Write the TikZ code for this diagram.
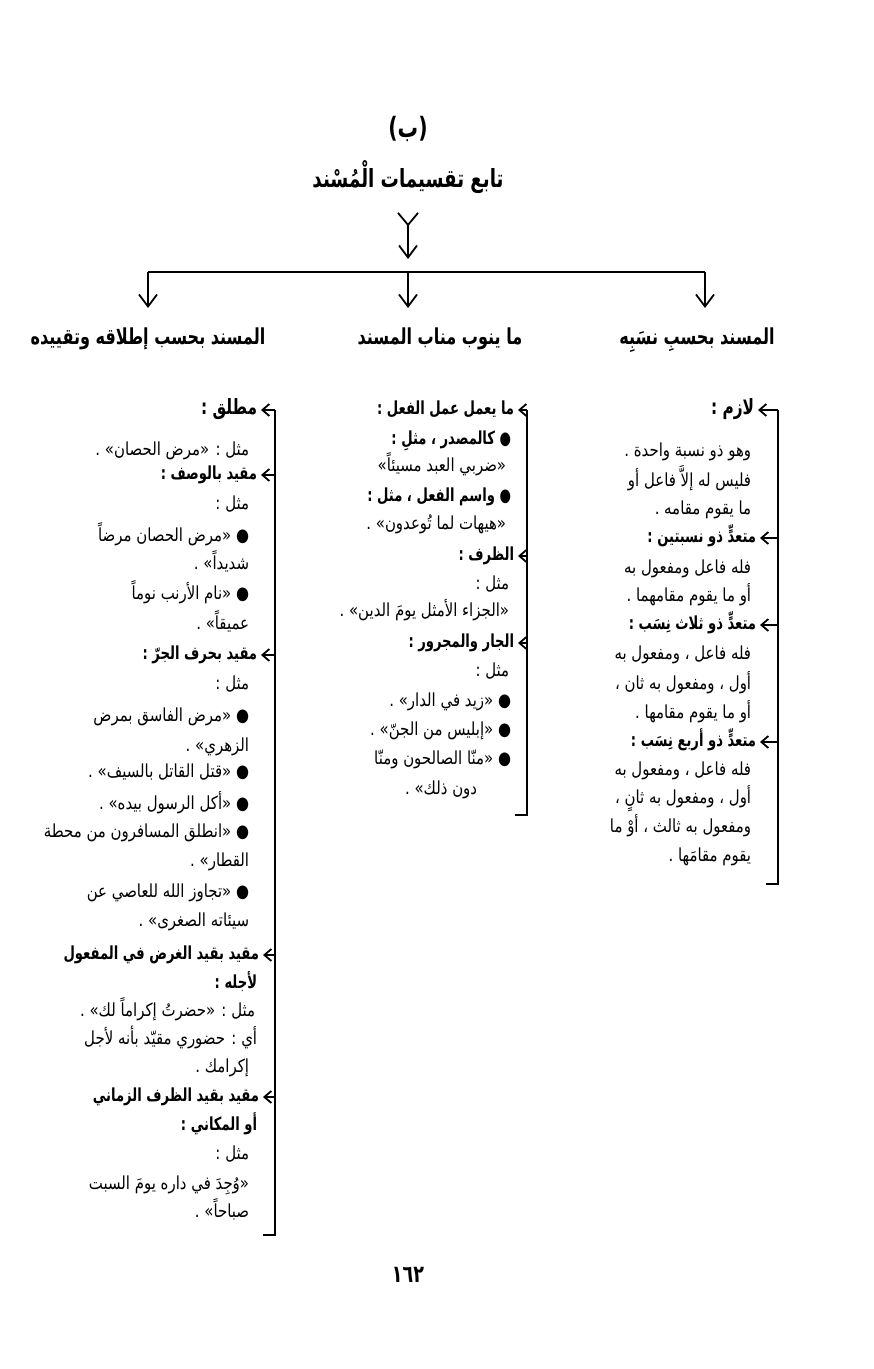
\documentclass[tikz,border=0pt]{standalone}
\usepackage{fontspec}
\usepackage{tikz}
\usetikzlibrary{arrows.meta}
\TeXXeTstate=1
\newfontfamily\arabicfont[Script=Arabic, FakeStretch=0.83, BoldFeatures={FakeStretch=0.73}]{DejaVu Sans}
\newcommand\bodysize{\fontsize{9}{11}\selectfont}

\begin{document}
\begin{tikzpicture}[x=0.5pt, y=-0.5pt, line width=0.9pt,
    >={Straight Barb[length=4pt,width=8pt]},
    ar/.style={inner sep=0pt, text height=7.5pt, text depth=3pt, font=\arabicfont\bodysize,
        execute at begin node=\beginR, execute at end node=\endR},
    body/.style={ar, anchor=east},
    head/.style={ar, anchor=east, font=\arabicfont\bodysize\bfseries},
    colhead/.style={ar, font=\arabicfont\fontsize{11}{13}\selectfont\bfseries},
    tick/.style={->, >={Straight Barb[length=3.5pt,width=6pt]}, shorten >=1.5pt}]
    \useasboundingbox (0,0) rectangle (873,1369);

    % title
    \node[ar, font=\arabicfont\fontsize{14}{16}\selectfont\bfseries] (letter) at (408,133) {(ب)};
    \node[ar, font=\arabicfont\fontsize{12.5}{14}\selectfont\bfseries] (title) at (408,183) {تابع تقسيمات الْمُسْند};
    \coordinate (tTop) at (408,212);
    \coordinate (tEnd) at (408,259);
    \draw[{Straight Barb[reversed,length=6pt,width=10pt]}-{Straight Barb[length=6pt,width=9pt]}] (tTop) -- (tEnd);

    % split
    \coordinate (sL) at (148,272);
    \coordinate (sM) at (408,272);
    \coordinate (sR) at (705,272);
    \coordinate (aL) at (148,308);
    \coordinate (aM) at (408,308);
    \coordinate (aR) at (705,308);
    \draw (sL) -- (sR);
    \foreach \s/\a in {sL/aL,sM/aM,sR/aR}
        \draw[->, >={Straight Barb[length=6pt,width=9pt]}] (\s) -- (\a);

    \node[colhead] (hR) at (697,340) {المسند بحسبِ نسَبِه};
    \node[colhead] (hM) at (440,340) {ما ينوب مناب المسند};
    \node[colhead] (hL) at (148,340) {المسند بحسب إطلاقه وتقييده};

    % right column
    \node[head, font=\arabicfont\fontsize{10.5}{12}\selectfont\bfseries] (r1) at (755,410) {لازم :};
    \node[body] (r2) at (752,452) {وهو ذو نسبة واحدة .};
    \node[body] (r3) at (752,482) {فليس له إلاَّ فاعل أو};
    \node[body] (r4) at (752,510) {ما يقوم مقامه .};
    \node[head] (r5) at (757,538) {متعدٍّ ذو نسبتين :};
    \node[body] (r6) at (752,569) {فله فاعل ومفعول به};
    \node[body] (r7) at (752,597) {أو ما يقوم مقامهما .};
    \node[head] (r8) at (757,625) {متعدٍّ ذو ثلاث نِسَب :};
    \node[body] (r9) at (752,655) {فله فاعل ، ومفعول به};
    \node[body] (r10) at (752,685) {أول ، ومفعول به ثان ،};
    \node[body] (r11) at (752,714) {أو ما يقوم مقامها .};
    \node[head] (r12) at (757,742) {متعدٍّ ذو أربع نِسَب :};
    \node[body] (r13) at (752,771) {فله فاعل ، ومفعول به};
    \node[body] (r14) at (752,799) {أول ، ومفعول به ثانٍ ،};
    \node[body] (r15) at (752,828) {ومفعول به ثالث ، أوْ ما};
    \node[body] (r16) at (752,857) {يقوم مقامَها .};
    \coordinate (rTop) at (778,410);
    \coordinate (rBot) at (778,884);
    \coordinate (rEnd) at (766,884);
    \draw (rTop) -- (rBot) -- (rEnd);
    \foreach \n in {r1,r5,r8,r12}
        \draw[tick] (\n.east -| rTop) -- (\n.east);

    % middle column
    \node[head] (m1) at (515,410) {ما يعمل عمل الفعل :};
    \node[head] (m2) at (512,440) {● كالمصدر ، مثلِ :};
    \node[body] (m3) at (507,467) {«ضربي العبد مسيئاً»};
    \node[head] (m4) at (512,497) {● واسم الفعل ، مثل :};
    \node[body] (m5) at (507,525) {«هيهات لما تُوعدون» .};
    \node[head] (m6) at (515,556) {الظرف :};
    \node[body] (m7) at (510,585) {مثل :};
    \node[body] (m8) at (510,612) {«الجزاء الأمثل يومَ الدين» .};
    \node[head] (m9) at (515,643) {الجار والمجرور :};
    \node[body] (m10) at (510,672) {مثل :};
    \node[body] (m11) at (512,702) {● «زيد في الدار» .};
    \node[body] (m12) at (512,731) {● «إبليس من الجنّ» .};
    \node[body] (m13) at (512,760) {● «منّا الصالحون ومنّا};
    \node[body] (m14) at (478,790) {دون ذلك» .};
    \coordinate (mTop) at (527,410);
    \coordinate (mBot) at (527,815);
    \coordinate (mEnd) at (515,815);
    \draw (mTop) -- (mBot) -- (mEnd);
    \foreach \n in {m1,m6,m9}
        \draw[tick] (\n.east -| mTop) -- (\n.east);

    % left column
    \node[head, font=\arabicfont\fontsize{10.5}{12}\selectfont\bfseries] (l1) at (258,410) {مطلق :};
    \node[body] (l2) at (250,451) {مثل : «مرض الحصان» .};
    \node[head] (l3) at (258,475) {مقيد بالوصف :};
    \node[body] (l4) at (250,505) {مثل :};
    \node[body] (l5) at (250,537) {● «مرض الحصان مرضاً};
    \node[body] (l6) at (250,565) {شديداً» .};
    \node[body] (l7) at (250,595) {● «نام الأرنب نوماً};
    \node[body] (l8) at (250,625) {عميقاً» .};
    \node[head] (l9) at (258,655) {مقيد بحرف الجرّ :};
    \node[body] (l10) at (250,685) {مثل :};
    \node[body] (l11) at (250,717) {● «مرض الفاسق بمرض};
    \node[body] (l12) at (250,747) {الزهري» .};
    \node[body] (l13) at (250,773) {● «قتل القاتل بالسيف» .};
    \node[body] (l14) at (250,805) {● «أكل الرسول بيده» .};
    \node[body] (l15) at (250,833) {● «انطلق المسافرون من محطة};
    \node[body] (l16) at (250,862) {القطار» .};
    \node[body] (l17) at (250,893) {● «تجاوز الله للعاصي عن};
    \node[body] (l18) at (250,922) {سيئاته الصغرى» .};
    \node[head] (l19) at (260,955) {مقيد بقيد الغرض في المفعول};
    \node[head] (l20) at (258,984) {لأجله :};
    \node[body] (l21) at (256,1012) {مثل : «حضرتُ إكراماً لك» .};
    \node[body] (l22) at (258,1040) {أي : حضوري مقيّد بأنه لأجل};
    \node[body] (l23) at (250,1068) {إكرامك .};
    \node[head] (l24) at (260,1097) {مقيد بقيد الظرف الزماني};
    \node[head] (l25) at (258,1126) {أو المكاني :};
    \node[body] (l26) at (250,1155) {مثل :};
    \node[body] (l27) at (250,1185) {«وُجِدَ في داره يومَ السبت};
    \node[body] (l28) at (250,1213) {صباحاً» .};
    \coordinate (lTop) at (275,410);
    \coordinate (lBot) at (275,1235);
    \coordinate (lEnd) at (263,1235);
    \draw (lTop) -- (lBot) -- (lEnd);
    \foreach \n in {l1,l3,l9,l19,l24}
        \draw[tick] (\n.east -| lTop) -- (\n.east);

    % page number
    \node[ar, font=\arabicfont\fontsize{12}{14}\selectfont\bfseries] (page) at (408,1278) {١٦٢};
\end{tikzpicture}
\end{document}
